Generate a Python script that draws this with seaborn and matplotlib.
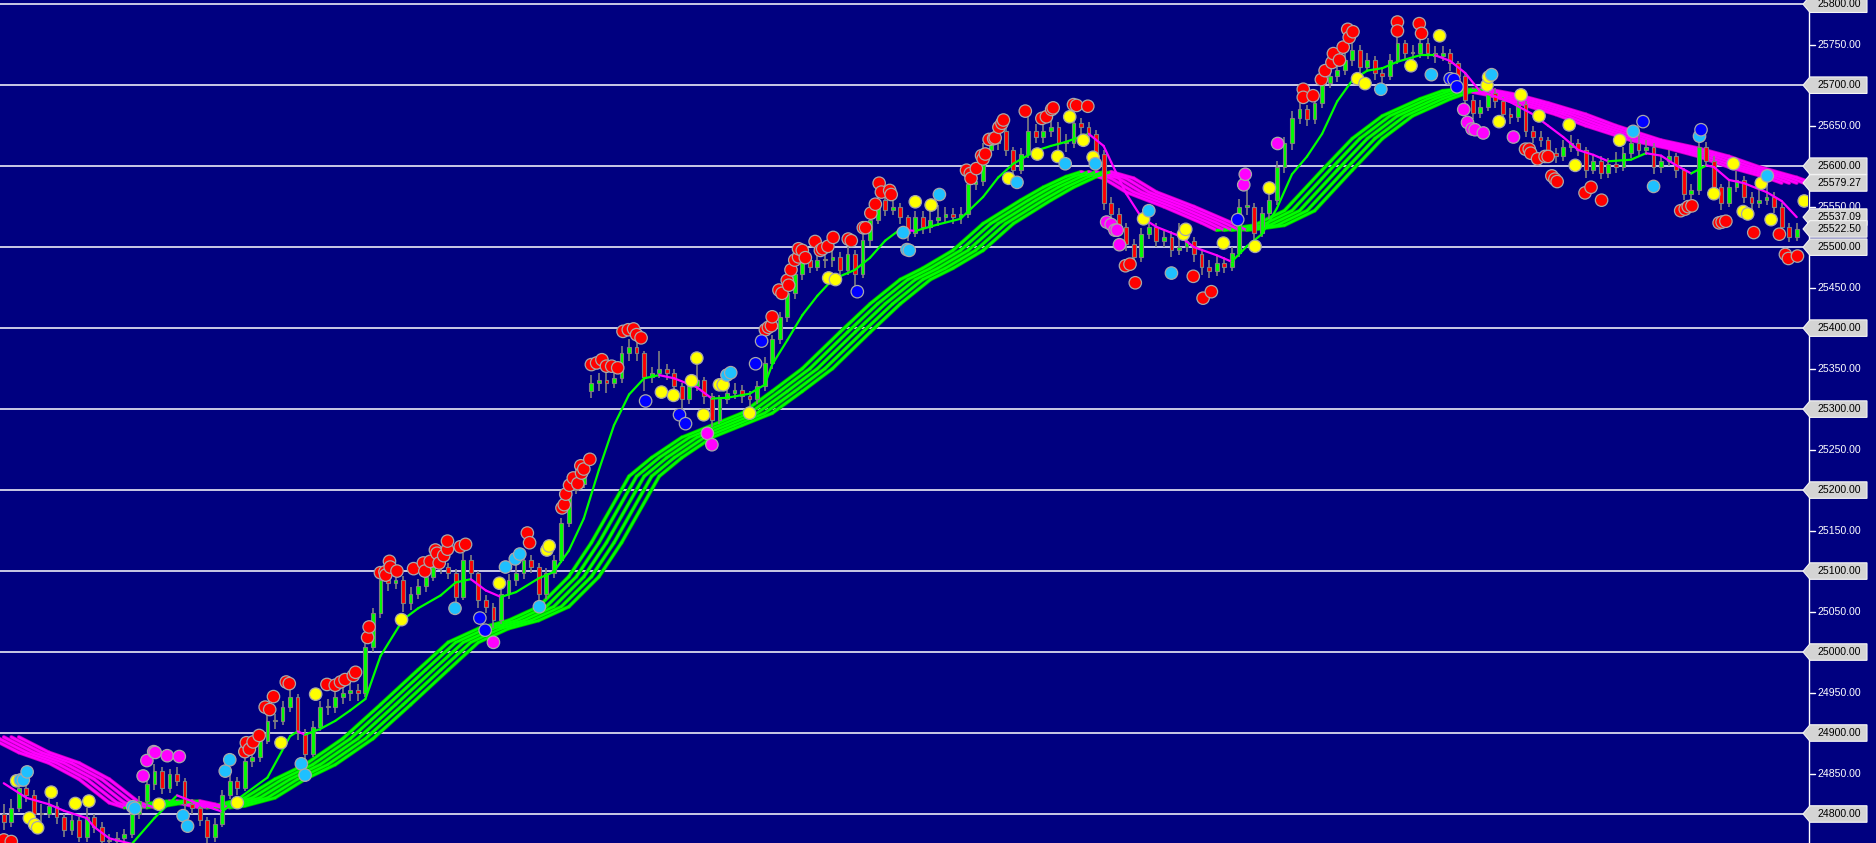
import numpy as np
import pandas as pd
import matplotlib
matplotlib.use("Agg")
import matplotlib.pyplot as plt
import matplotlib.transforms as mtransforms
from matplotlib.collections import LineCollection
from matplotlib.lines import Line2D
from matplotlib.patches import Polygon
import seaborn as sns

# ---- price bars (one bar per index) ----
OPEN_FIRST = 24800
GAP_OPENS = {78: 25322}

CLOSES = [
    24790, 24808, 24832, 24824, 24800, 24800, 24810, 24796, 24780, 24792,
    24771, 24796, 24784, 24767, 24767, 24770, 24775, 24800, 24816, 24837,
    24853, 24832, 24850, 24841, 24812, 24808, 24792, 24771, 24788, 24824,
    24841, 24832, 24866, 24870, 24890, 24915, 24915, 24932, 24944, 24900,
    24874, 24907, 24932, 24932, 24944, 24949, 24953, 24949, 25006, 25048,
    25089, 25085, 25089, 25060, 25072, 25081, 25093, 25105, 25105, 25097,
    25068, 25114, 25097, 25064, 25056, 25039, 25072, 25089, 25097, 25114,
    25105, 25072, 25097, 25114, 25159, 25200, 25208, 25225, 25332, 25336,
    25332, 25338, 25369, 25377, 25369, 25340, 25344, 25349, 25344, 25328,
    25312, 25328, 25336, 25316, 25287, 25312, 25320, 25324, 25316, 25312,
    25328, 25357, 25386, 25414, 25443, 25467, 25484, 25476, 25484, 25484,
    25488, 25472, 25492, 25467, 25509, 25533, 25558, 25546, 25550, 25537,
    25517, 25537, 25525, 25533, 25537, 25541, 25537, 25541, 25578, 25582,
    25620, 25628, 25644, 25620, 25595, 25615, 25644, 25636, 25644, 25648,
    25628, 25628, 25653, 25648, 25640, 25615, 25554, 25541, 25525, 25504,
    25488, 25516, 25525, 25508, 25512, 25496, 25500, 25508, 25492, 25475,
    25471, 25480, 25476, 25493, 25550, 25550, 25517, 25542, 25558, 25599,
    25628, 25660, 25670, 25658, 25678, 25703, 25711, 25719, 25731, 25744,
    25723, 25731, 25715, 25711, 25731, 25752, 25740, 25740, 25752, 25740,
    25736, 25740, 25727, 25711, 25682, 25666, 25673, 25690, 25681, 25665,
    25661, 25677, 25644, 25636, 25632, 25616, 25612, 25624, 25628, 25620,
    25595, 25607, 25591, 25603, 25599, 25616, 25628, 25620, 25624, 25599,
    25607, 25612, 25595, 25566, 25570, 25624, 25607, 25574, 25554, 25574,
    25583, 25562, 25554, 25558, 25562, 25550, 25525, 25513, 25522.5,
]

HIGHS = [
    24812, 24818, 24850, 24840, 24830, 24812, 24824, 24815, 24800, 24800,
    24796, 24808, 24800, 24790, 24775, 24778, 24782, 24808, 24822, 24845,
    24862, 24858, 24856, 24858, 24845, 24818, 24812, 24796, 24795, 24830,
    24848, 24846, 24872, 24880, 24896, 24925, 24924, 24940, 24954, 24948,
    24905, 24915, 24940, 24942, 24952, 24958, 24962, 24960, 25012, 25055,
    25100, 25098, 25096, 25094, 25080, 25090, 25100, 25115, 25114, 25110,
    25102, 25122, 25120, 25100, 25070, 25060, 25078, 25096, 25112, 25122,
    25120, 25110, 25104, 25120, 25165, 25206, 25216, 25232, 25342, 25345,
    25344, 25348, 25378, 25386, 25382, 25372, 25352, 25372, 25356, 25350,
    25332, 25334, 25354, 25340, 25320, 25318, 25328, 25332, 25330, 25322,
    25335, 25364, 25392, 25420, 25450, 25475, 25494, 25490, 25492, 25494,
    25500, 25494, 25500, 25496, 25516, 25540, 25566, 25562, 25560, 25555,
    25540, 25545, 25545, 25545, 25552, 25550, 25548, 25550, 25585, 25592,
    25628, 25636, 25652, 25650, 25624, 25622, 25664, 25652, 25652, 25660,
    25654, 25640, 25662, 25660, 25654, 25645, 25620, 25562, 25548, 25530,
    25510, 25524, 25540, 25530, 25520, 25520, 25530, 25520, 25512, 25498,
    25484, 25490, 25488, 25500, 25560, 25570, 25555, 25550, 25566, 25606,
    25636, 25668, 25680, 25676, 25686, 25710, 25720, 25728, 25740, 25756,
    25750, 25740, 25736, 25722, 25738, 25762, 25756, 25750, 25764, 25758,
    25748, 25748, 25745, 25730, 25716, 25688, 25682, 25704, 25696, 25686,
    25672, 25684, 25680, 25650, 25644, 25636, 25622, 25632, 25638, 25634,
    25624, 25614, 25612, 25610, 25618, 25624, 25634, 25640, 25632, 25628,
    25614, 25620, 25616, 25598, 25578, 25634, 25630, 25612, 25578, 25582,
    25594, 25588, 25568, 25570, 25580, 25568, 25554, 25530, 25530,
]

LOWS = [
    24780, 24784, 24803, 24815, 24792, 24790, 24795, 24788, 24772, 24774,
    24765, 24766, 24776, 24760, 24758, 24760, 24762, 24770, 24794, 24810,
    24830, 24825, 24826, 24834, 24805, 24800, 24785, 24764, 24766, 24784,
    24818, 24824, 24828, 24858, 24864, 24886, 24905, 24910, 24926, 24892,
    24866, 24870, 24902, 24922, 24925, 24936, 24940, 24940, 24945, 25000,
    25042, 25075, 25078, 25050, 25052, 25066, 25074, 25088, 25096, 25090,
    25060, 25064, 25090, 25055, 25048, 25030, 25035, 25066, 25082, 25090,
    25098, 25060, 25066, 25092, 25110, 25154, 25195, 25202, 25314, 25322,
    25320, 25326, 25332, 25360, 25360, 25322, 25332, 25338, 25336, 25320,
    25300, 25306, 25322, 25306, 25278, 25282, 25306, 25312, 25308, 25302,
    25306, 25322, 25350, 25380, 25408, 25436, 25460, 25468, 25470, 25474,
    25476, 25464, 25466, 25452, 25462, 25502, 25528, 25538, 25540, 25528,
    25508, 25512, 25516, 25518, 25526, 25530, 25528, 25528, 25536, 25570,
    25576, 25612, 25620, 25612, 25586, 25590, 25610, 25628, 25628, 25636,
    25620, 25618, 25622, 25638, 25630, 25606, 25546, 25532, 25515, 25495,
    25478, 25482, 25510, 25500, 25500, 25488, 25490, 25494, 25482, 25466,
    25462, 25464, 25468, 25470, 25488, 25540, 25508, 25512, 25535, 25552,
    25592, 25620, 25652, 25650, 25652, 25672, 25696, 25704, 25712, 25724,
    25715, 25716, 25706, 25702, 25706, 25726, 25732, 25730, 25734, 25732,
    25728, 25730, 25718, 25702, 25674, 25658, 25660, 25668, 25672, 25656,
    25652, 25654, 25636, 25628, 25624, 25608, 25604, 25606, 25618, 25612,
    25586, 25590, 25584, 25586, 25592, 25594, 25610, 25612, 25614, 25590,
    25592, 25600, 25586, 25558, 25560, 25565, 25600, 25566, 25546, 25550,
    25568, 25554, 25546, 25548, 25552, 25542, 25516, 25506, 25508,
]

# ---- fast average (bar, value) ----
FAST = [
    (0, 24838), (3, 24820), (6, 24812), (8, 24804), (11, 24795), (12, 24784), (14, 24770),
    (17, 24763), (20, 24795), (23, 24823), (26, 24812), (29, 24803), (31, 24818), (35, 24845),
    (38, 24896), (39, 24902), (40, 24898), (42, 24905), (44, 24915), (46, 24928), (48, 24942),
    (50, 24995), (53, 25040), (55, 25054), (58, 25070), (60, 25086), (62, 25090), (64, 25076),
    (66, 25068), (68, 25074), (71, 25091), (73, 25099), (75, 25125), (77, 25165), (79, 25225),
    (81, 25280), (83, 25318), (85, 25338), (87, 25342), (89, 25338), (92, 25327), (94, 25313),
    (96, 25314), (99, 25319), (101, 25330), (102, 25355), (104, 25385), (106, 25416),
    (108, 25440), (110, 25460), (113, 25472), (115, 25487), (117, 25508), (119, 25522),
    (121, 25520), (124, 25528), (127, 25535), (130, 25562), (132, 25586), (134, 25603),
    (137, 25619), (139, 25625), (141, 25630), (144, 25640), (146, 25625), (147, 25605),
    (149, 25566), (151, 25537), (153, 25525), (156, 25514), (158, 25500), (161, 25490),
    (163, 25482), (165, 25501), (167, 25516), (169, 25548), (171, 25590), (173, 25612),
    (175, 25640), (177, 25680), (179, 25706), (181, 25718), (183, 25721), (185, 25729),
    (188, 25737), (190, 25737), (192, 25730), (194, 25715), (196, 25692), (198, 25686),
    (200, 25679), (203, 25664), (205, 25650), (207, 25636), (209, 25620), (211, 25614),
    (213, 25606), (216, 25608), (218, 25616), (220, 25613), (222, 25601), (224, 25591),
    (226, 25601), (227, 25599), (229, 25583), (231, 25579), (234, 25568), (236, 25557),
    (238, 25537.09),
]

# ---- slow ribbon centre (bar, value) ----
SLOW = [
    (0, 24895), (4, 24876), (8, 24863), (12, 24843), (16, 24814), (18, 24808), (22, 24814),
    (24, 24816), (26, 24812), (28, 24808), (30, 24810), (34, 24820), (38, 24843), (42, 24861),
    (47, 24893), (52, 24935), (57, 24978), (61, 25012), (65, 25029), (69, 25039), (73, 25056),
    (77, 25093), (80, 25135), (85, 25217), (88, 25240), (92, 25265), (96, 25280), (100, 25295),
    (104, 25322), (108, 25350), (113, 25395), (117, 25430), (121, 25460), (124, 25474),
    (128, 25496), (132, 25529), (137, 25558), (140, 25574), (143, 25587), (145, 25593),
    (148, 25585), (151, 25568), (156, 25550), (161, 25530), (163, 25521), (165, 25523),
    (168, 25527), (172, 25545), (177, 25595), (181, 25634), (185, 25662), (190, 25683),
    (193, 25693), (195, 25695), (199, 25688), (203, 25678), (208, 25664), (212, 25650),
    (218, 25632), (223, 25622), (227, 25612), (231, 25599), (236, 25586), (238, 25579.27),
]

# ---- signal dots (bar, price) ----
RED_DOTS = [
    (0, 24768), (1, 24766),
    (32, 24877), (32.2, 24888), (32.6, 24880), (33.1, 24889), (33.9, 24897),
    (34.7, 24932), (35.3, 24929), (35.8, 24945), (37.5, 24963), (37.9, 24961), (42.9, 24960),
    (44, 24959), (44.7, 24963), (45.3, 24966), (46.4, 24971), (46.7, 24975),
    (48.3, 25018), (48.5, 25031),
    (50, 25098), (50.6, 25099), (50.7, 25095), (51.2, 25112), (51.3, 25105), (52.2, 25100),
    (54.4, 25103), (55.7, 25110), (55.9, 25100), (56.6, 25112), (57.3, 25126), (57.5, 25122),
    (57.8, 25110), (58.4, 25119), (58.9, 25127), (58.9, 25137), (60.6, 25130), (61.3, 25133),
    (69.5, 25147), (69.8, 25135),
    (74.1, 25178), (74.4, 25182), (74.6, 25195), (75.1, 25206), (75.6, 25215), (76.2, 25208),
    (76.6, 25230), (76.7, 25221), (77, 25226), (77.8, 25238),
    (78, 25355), (78.7, 25357), (79.4, 25361), (80, 25353), (80.7, 25353), (81.5, 25351),
    (82.2, 25396), (82.9, 25398), (83.6, 25399), (84, 25392), (84.6, 25388),
    (101.1, 25398), (101.5, 25401), (101.9, 25403), (102, 25414),
    (102.9, 25447), (103.3, 25443), (104, 25459), (104.2, 25453), (104.5, 25472), (105, 25484),
    (105.5, 25488), (105.5, 25498), (106, 25496), (106.4, 25487),
    (107.7, 25507), (108.4, 25496), (108.7, 25498), (109.4, 25501), (110.1, 25512),
    (112.1, 25510), (112.5, 25508), (114.1, 25524), (114.4, 25524),
    (115.1, 25542), (115.7, 25553), (116.2, 25579), (116.5, 25568), (117.6, 25570), (117.8, 25565),
    (127.8, 25595), (128.3, 25591), (128.4, 25585), (129.1, 25597), (129.8, 25613), (130, 25609),
    (130.3, 25615), (130.8, 25633), (131.4, 25634), (131.6, 25635), (132.1, 25648),
    (132.5, 25653), (132.7, 25657), (135.6, 25668),
    (137.8, 25659), (138.4, 25661), (139.1, 25670), (139.3, 25672),
    (142, 25676), (142.4, 25675), (143.9, 25674),
    (148.9, 25477), (149.5, 25479), (150.2, 25456),
    (157.9, 25464), (159.2, 25437), (160.3, 25445),
    (172.5, 25695), (172.5, 25685), (173.8, 25687),
    (174.9, 25707), (175.4, 25718), (176.3, 25728), (176.5, 25739), (177.3, 25731),
    (177.8, 25747), (178.4, 25769), (178.6, 25759), (179.1, 25766),
    (185, 25778), (185, 25767), (187.9, 25776), (188.2, 25764),
    (202, 25621), (202.5, 25621), (202.7, 25616), (203.6, 25609), (204.6, 25612), (205, 25612),
    (205.5, 25588), (205.9, 25584), (206.2, 25581),
    (209.9, 25567), (210.7, 25574), (212.1, 25558),
    (222.6, 25545), (223.2, 25547), (223.6, 25550), (224.1, 25551),
    (227.7, 25530), (228.1, 25531), (228.6, 25532),
    (232.3, 25518), (235.7, 25516), (236.5, 25491), (236.9, 25486), (238.1, 25489),
]

YELLOW_DOTS = [
    (1.7, 24841), (3.4, 24795), (4.1, 24787), (4.5, 24783), (6.3, 24827), (9.5, 24813),
    (11.3, 24816), (20.6, 24812), (31, 24814), (36.8, 24888), (41.4, 24948),
    (52.8, 25040), (65.8, 25085), (72.1, 25126), (72.4, 25131),
    (87.3, 25321), (88.9, 25317), (91.3, 25335), (92, 25363), (92.9, 25293), (95, 25330),
    (95.5, 25330), (99, 25295),
    (109.5, 25462), (110.4, 25460), (121, 25556), (123.1, 25552),
    (133.4, 25585), (137.2, 25615), (139.9, 25612), (141.5, 25661), (143.3, 25632), (144.6, 25611),
    (151.3, 25535), (156.6, 25516), (156.9, 25522), (161.9, 25505), (166.1, 25501), (168, 25573),
    (179.7, 25708), (180.7, 25702), (186.8, 25724), (190.6, 25761),
    (196.9, 25700), (197.1, 25710), (198.5, 25655), (201.4, 25688), (203.8, 25662),
    (207.8, 25651), (208.6, 25601),
    (214.5, 25632), (227, 25566), (229.6, 25603), (230.9, 25544), (231.5, 25541),
    (233.3, 25579), (234.6, 25534), (239, 25557),
]

CYAN_DOTS = [
    (2.2, 24842), (2.6, 24842), (3.1, 24852), (17.1, 24809), (17.4, 24807), (23.8, 24798),
    (24.4, 24785), (29.4, 24853), (30, 24867), (39.5, 24862), (40, 24848),
    (59.9, 25054), (66.6, 25105), (67.9, 25115), (68.5, 25121), (71.1, 25056),
    (96, 25342), (96.5, 25345),
    (119.4, 25518), (119.9, 25497), (120.2, 25496), (124.2, 25565),
    (134.5, 25580), (140.9, 25603), (144.9, 25603), (152, 25545), (155, 25468),
    (182.8, 25695), (189.5, 25713), (197.5, 25713),
    (216.3, 25643), (219, 25575), (225.1, 25637), (234.1, 25588),
]

BLUE_DOTS = [
    (63.2, 25042), (63.9, 25027), (85.2, 25310), (89.7, 25293), (90.5, 25282),
    (99.8, 25356), (100.6, 25384), (113.3, 25445), (163.8, 25534),
    (192, 25708), (192.5, 25707), (192.9, 25698), (217.6, 25655), (225.3, 25645),
]

MAGENTA_DOTS = [
    (18.5, 24847), (19, 24866), (19.9, 24877), (20.1, 24876), (21.7, 24872), (23.3, 24871),
    (65, 25012), (93.4, 25270), (94, 25256),
    (146.4, 25531), (147, 25528), (147.5, 25521), (147.8, 25521), (148.1, 25503),
    (164.6, 25577), (164.8, 25590), (169.1, 25628),
    (193.8, 25670), (194.3, 25654), (194.9, 25646), (195.3, 25645), (196.4, 25641), (200.4, 25636),
]

# price tags on the right scale
EXTRA_TAGS = [25579.27, 25537.09, 25522.50]

BG = "#000080"
LIME = "#00ff00"
PINK = "#ff00ff"
GREY = "#808080"
PALETTE = {"red": "#ff0000", "yellow": "#ffff00", "cyan": "#1ec0ff",
           "blue": "#0000ff", "magenta": "#ff00ff"}

W, H = 1876, 843
sns.set_style("dark", {"axes.facecolor": BG, "figure.facecolor": BG})
plt.rcParams["font.family"] = ["Liberation Sans", "DejaVu Sans"]

fig = plt.figure(figsize=(W / 100, H / 100), dpi=100)
ax = fig.add_axes([0, 0, 1808 / W, 1])
ax.set_facecolor(BG)

# horizontal grid at every 100 points
for lvl in range(24800, 25801, 100):
    ax.axhline(lvl, xmax=1803 / 1808, color="white", lw=1.1, zorder=1)


def slope_segments(xs, ys):
    pts = np.column_stack([xs, ys])
    segs = np.stack([pts[:-1], pts[1:]], axis=1)
    cols = np.where(np.diff(ys) >= 0, LIME, PINK)
    return segs, cols


# slow ribbon: five lagged copies of the centre line
sx = np.array([p[0] for p in SLOW], dtype=float)
sy = np.array([p[1] for p in SLOW], dtype=float)
for k in range(-2, 3):
    segs, cols = slope_segments(sx + k * 1.0, sy)
    dark = np.where(cols == LIME, "#00b000", "#c000c0")
    ax.add_collection(LineCollection(segs, colors=dark, linewidths=2.8, zorder=2, capstyle="round"))
    ax.add_collection(LineCollection(segs, colors=cols, linewidths=1.7, zorder=2.1, capstyle="round"))

# candles
c = np.array(CLOSES, dtype=float)
o = np.concatenate([[OPEN_FIRST], c[:-1]])
for k, v in GAP_OPENS.items():
    o[k] = v
x = np.arange(len(c))
ax.vlines(x, LOWS, HIGHS, color=GREY, lw=1.2, zorder=3)
body_lo = np.minimum(o, c)
body_h = np.maximum(np.abs(c - o), 1.5)
body_col = np.where(c >= o, LIME, "#ff0000")
ax.bar(x, body_h, bottom=body_lo, width=0.5, color=body_col, edgecolor=GREY,
       linewidth=0.8, zorder=4)

# fast average
fx = np.array([p[0] for p in FAST], dtype=float)
fy = np.array([p[1] for p in FAST], dtype=float)
segs, cols = slope_segments(fx, fy)
ax.add_collection(LineCollection(segs, colors=cols, linewidths=1.6, zorder=5, capstyle="round"))

# signal dots
rows = []
for kind, dots in [("red", RED_DOTS), ("yellow", YELLOW_DOTS), ("cyan", CYAN_DOTS),
                   ("blue", BLUE_DOTS), ("magenta", MAGENTA_DOTS)]:
    for b, p in dots:
        rows.append((b, p, kind))
sig = pd.DataFrame(rows, columns=["bar", "price", "kind"])
sns.scatterplot(data=sig, x="bar", y="price", hue="kind", palette=PALETTE, s=80,
                edgecolor="#a8a8a8", linewidth=0.9, legend=False, ax=ax, zorder=7)

ax.set_xlim(-0.5, 239.5)
ax.set_ylim(24764.2, 25805.2)
ax.set_xticks([])
ax.set_yticks([])
ax.set_xlabel("")
ax.set_ylabel("")
for s in ax.spines.values():
    s.set_visible(False)

# right-hand price scale
tr = mtransforms.blended_transform_factory(fig.transFigure, ax.transData)
fig.add_artist(Line2D([1809 / W, 1809 / W], [0, 1], transform=fig.transFigure,
                      color="white", lw=1.0, zorder=2))

for p in range(24850, 25800, 100):
    fig.add_artist(Line2D([1810 / W, 1815 / W], [p, p], transform=tr, color="white",
                          lw=1.0, zorder=2))
    fig.text(1817 / W, p, f"{p:.2f}", transform=tr, ha="left", va="center",
             fontsize=7.6, color="white", zorder=2)

HALF = 10.2


def price_tag(p, z):
    xs = np.array([1803, 1810, 1867, 1867, 1810]) / W
    ys = [p, p + HALF, p + HALF, p - HALF, p - HALF]
    fig.add_artist(Polygon(np.column_stack([xs, ys]), closed=True, transform=tr,
                           facecolor="#d4d4d4", edgecolor="#f4f4f4", lw=0.8, zorder=z))
    fig.text(1817 / W, p, f"{p:.2f}", transform=tr, ha="left", va="center",
             fontsize=7.6, color="black", zorder=z + 0.1)


for p in range(24800, 25801, 100):
    price_tag(p, 4)
for i, p in enumerate(EXTRA_TAGS):
    price_tag(p, 5 + i)

fig.savefig("out.png", dpi=100, facecolor=BG)
